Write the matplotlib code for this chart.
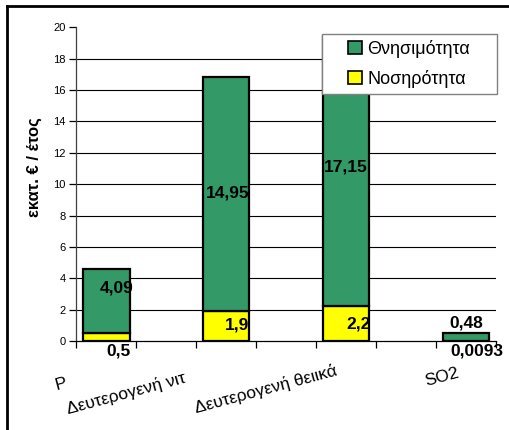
import matplotlib
matplotlib.use("Agg")
import matplotlib.pyplot as plt
from matplotlib.lines import Line2D
from matplotlib.patches import Rectangle

plt.rcParams['font.family'] = ['Liberation Sans', 'DejaVu Sans']

# Data
categories = ["P", "Δευτερογενή νιτ", "Δευτερογενή θειικά", "SO2"]
morbidity = [0.5, 1.9, 2.2, 0.0093]        # Νοσηρότητα
mortality = [4.09, 14.95, 17.15, 0.48]     # Θνησιμότητα
morbidity_labels = ["0,5", "1,9", "2,2", "0,0093"]
mortality_labels = ["4,09", "14,95", "17,15", "0,48"]
y_ticks = [0, 2, 4, 6, 8, 10, 12, 14, 16, 18, 20]

green = "#339966"
yellow = "#FFFF00"

W, H, DPI = 510, 430, 100
fig = plt.figure(figsize=(W / DPI, H / DPI), dpi=DPI)
ax = fig.add_axes([76.5 / W, 1 - 341 / H, (496 - 76.5) / W, (341 - 27.3) / H])

# bars sit on every other slot of a 7-slot category axis
xpos = [2 * i for i in range(len(categories))]
bw = 0.77
ax.bar(xpos, morbidity, bw, color=yellow, edgecolor="black", linewidth=1.6,
       zorder=3)
ax.bar(xpos, mortality, bw, bottom=morbidity, color=green, edgecolor="black",
       linewidth=1.6, zorder=3)

ax.set_xlim(-0.5, 6.5)
ax.set_ylim(0, 20)
ax.set_yticks(y_ticks)
ax.set_yticklabels([str(t) for t in y_ticks], fontsize=8)
ax.set_xticks([i + 0.5 for i in range(-1, 7)])
ax.set_xticklabels([])
ax.tick_params(axis="y", direction="out", length=5, width=0.9, pad=3)
ax.tick_params(axis="x", direction="out", length=5, width=0.9)

for t in y_ticks[1:-1]:
    ax.axhline(t, color="black", linewidth=0.8, zorder=1)

for s in ("top", "right"):
    ax.spines[s].set_visible(False)
ax.spines["left"].set_linewidth(0.9)
ax.spines["bottom"].set_linewidth(0.9)
ax.spines["left"].set_color("#404040")

ax.set_ylabel("εκατ. € / έτος", fontsize=12, fontweight="bold")
ax.yaxis.set_label_coords(-0.082, 0.555)

# value labels (pixel offsets from segment centres)
fs_val = 12.5
mort_off = [(10, 13), (1, 1), (0, 5), (0, 0)]
morb_off = [(12, 0), (11, 1), (12, 0), (11, 0)]
for i, x in enumerate(xpos):
    ym = morbidity[i] + mortality[i] / 2
    if i == 3:
        ax.annotate(mortality_labels[i], (x, morbidity[i] + mortality[i]),
                    xytext=(0, 3), textcoords="offset pixels", ha="center",
                    va="bottom", fontsize=fs_val, fontweight="bold", zorder=5)
    else:
        ax.annotate(mortality_labels[i], (x, ym), xytext=mort_off[i],
                    textcoords="offset pixels", ha="center", va="center",
                    fontsize=fs_val, fontweight="bold", zorder=5)
    if i in (0, 3):
        ax.annotate(morbidity_labels[i], (x, 0), xytext=(morb_off[i][0], -2),
                    textcoords="offset pixels", ha="center", va="top",
                    fontsize=fs_val, fontweight="bold", zorder=5,
                    annotation_clip=False)
    else:
        ax.annotate(morbidity_labels[i], (x, morbidity[i] / 2),
                    xytext=morb_off[i], textcoords="offset pixels",
                    ha="center", va="center", fontsize=fs_val,
                    fontweight="bold", zorder=5)

# rotated category labels
cat_off = [(-50, -49), (-158, -73), (-150, -72), (-40, -45)]
for i, x in enumerate(xpos):
    ax.annotate(categories[i], (x, 0), xytext=cat_off[i],
                textcoords="offset pixels", ha="left", va="baseline",
                rotation=15, rotation_mode="anchor", fontsize=12.5,
                annotation_clip=False)

# legend with a fixed box
box = Rectangle((322 / W, 1 - 94 / H), 175 / W, 60 / H,
                transform=fig.transFigure, facecolor="white",
                edgecolor="#808080", linewidth=1.0, zorder=9)
fig.add_artist(box)
handles = [
    Rectangle((0, 0), 1, 1, facecolor=green, edgecolor="black", linewidth=1.2),
    Rectangle((0, 0), 1, 1, facecolor=yellow, edgecolor="black", linewidth=1.2),
]
leg = fig.legend(handles, ["Θνησιμότητα", "Νοσηρότητα"], loc="center",
                 bbox_to_anchor=(409 / W, 1 - 64 / H),
                 bbox_transform=fig.transFigure,
                 fontsize=13, frameon=False,
                 handlelength=0.75, handleheight=0.75, handletextpad=0.3,
                 borderpad=0, labelspacing=0.65)
leg.set_zorder(10)

# outer frame: top and left edges
fig.add_artist(Line2D([7 / W, 1], [1 - 6 / H, 1 - 6 / H], color="black",
                      linewidth=2.0, transform=fig.transFigure))
fig.add_artist(Line2D([7 / W, 7 / W], [0, 1 - 6 / H], color="black",
                      linewidth=2.0, transform=fig.transFigure))

fig.savefig("out.png", dpi=DPI)
